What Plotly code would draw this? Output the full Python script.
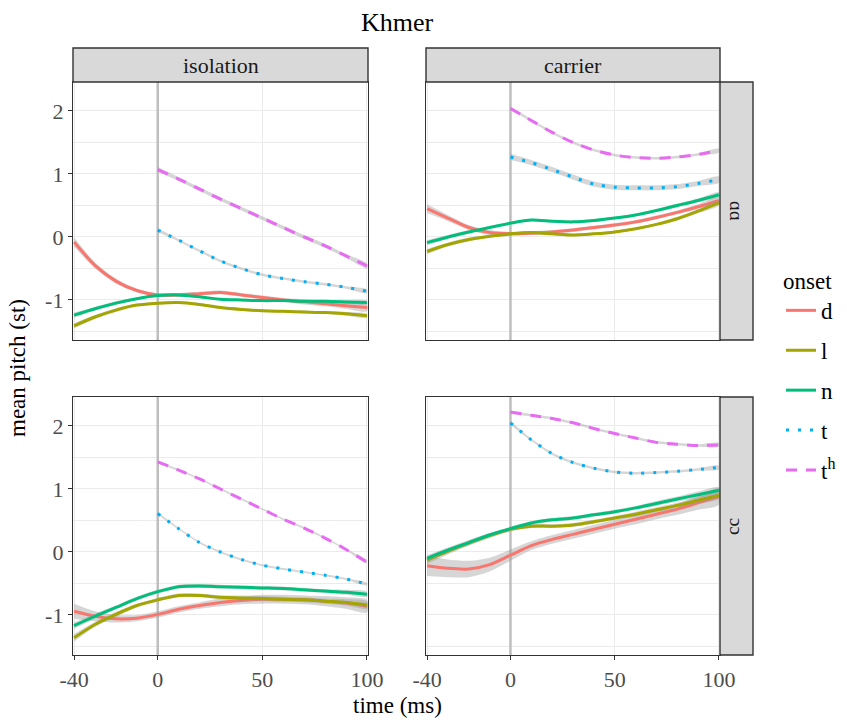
import plotly.graph_objects as go

W, H = 847, 722

# ---------------- data ----------------
time_son = [-40, -30, -20, -10, 0, 10, 20, 30, 40, 50, 60, 70, 80, 90, 100]
time_stop = [0, 10, 20, 30, 40, 50, 60, 70, 80, 90, 100]
onsets = ["d", "l", "n", "t", "tʰ"]
onset_labels = ["d", "l", "n", "t", "t<sup>h</sup>"]
contexts = ["isolation", "carrier"]
vowels = ["ɑɑ", "ɔɔ"]
x_ticks = [-40, 0, 50, 100]
y_ticks = [-1, 0, 1, 2]
onset_time = 0

# isolation / ɑɑ  (mean pitch, st)
iso_a_d = [-0.08, -0.45, -0.70, -0.85, -0.92, -0.92, -0.90, -0.88, -0.92, -0.96, -1.00, -1.03, -1.06, -1.09, -1.12]
iso_a_l = [-1.41, -1.27, -1.16, -1.08, -1.05, -1.04, -1.07, -1.12, -1.15, -1.17, -1.18, -1.19, -1.20, -1.22, -1.25]
iso_a_n = [-1.24, -1.14, -1.05, -0.98, -0.93, -0.92, -0.95, -0.99, -1.00, -1.01, -1.01, -1.02, -1.02, -1.03, -1.04]
iso_a_t = [0.11, -0.05, -0.22, -0.38, -0.50, -0.60, -0.66, -0.71, -0.75, -0.80, -0.86]
iso_a_th = [1.07, 0.92, 0.76, 0.60, 0.45, 0.30, 0.15, 0.00, -0.14, -0.30, -0.46]

# carrier / ɑɑ
car_a_d = [0.45, 0.30, 0.15, 0.07, 0.05, 0.06, 0.08, 0.11, 0.15, 0.19, 0.24, 0.31, 0.39, 0.48, 0.58]
car_a_l = [-0.23, -0.12, -0.04, 0.01, 0.05, 0.07, 0.05, 0.03, 0.05, 0.08, 0.13, 0.20, 0.29, 0.41, 0.54]
car_a_n = [-0.09, 0.00, 0.08, 0.15, 0.22, 0.27, 0.25, 0.24, 0.26, 0.30, 0.35, 0.42, 0.50, 0.58, 0.67]
car_a_t = [1.27, 1.18, 1.07, 0.95, 0.84, 0.79, 0.78, 0.78, 0.80, 0.85, 0.91]
car_a_th = [2.04, 1.85, 1.66, 1.50, 1.38, 1.30, 1.26, 1.25, 1.27, 1.31, 1.37]

# isolation / ɔɔ
iso_o_d = [-0.94, -1.02, -1.06, -1.05, -0.99, -0.91, -0.85, -0.80, -0.77, -0.75, -0.75, -0.76, -0.78, -0.81, -0.86]
iso_o_l = [-1.36, -1.15, -0.99, -0.85, -0.76, -0.69, -0.69, -0.72, -0.73, -0.74, -0.75, -0.76, -0.78, -0.80, -0.84]
iso_o_n = [-1.17, -1.02, -0.88, -0.74, -0.63, -0.55, -0.54, -0.55, -0.56, -0.57, -0.58, -0.60, -0.62, -0.64, -0.67]
iso_o_t = [0.61, 0.37, 0.15, 0.00, -0.12, -0.21, -0.27, -0.32, -0.37, -0.43, -0.51]
iso_o_th = [1.43, 1.30, 1.16, 1.00, 0.84, 0.68, 0.52, 0.38, 0.22, 0.04, -0.16]

# carrier / ɔɔ
car_o_d = [-0.22, -0.26, -0.27, -0.20, -0.05, 0.10, 0.20, 0.28, 0.36, 0.44, 0.52, 0.60, 0.68, 0.78, 0.88]
car_o_l = [-0.13, 0.01, 0.14, 0.26, 0.36, 0.41, 0.41, 0.43, 0.48, 0.54, 0.60, 0.67, 0.74, 0.82, 0.90]
car_o_n = [-0.10, 0.03, 0.15, 0.27, 0.37, 0.46, 0.51, 0.54, 0.59, 0.64, 0.70, 0.77, 0.84, 0.91, 0.98]
car_o_t = [2.05, 1.78, 1.56, 1.42, 1.33, 1.27, 1.25, 1.26, 1.28, 1.31, 1.34]
car_o_th = [2.22, 2.17, 2.12, 2.05, 1.96, 1.88, 1.81, 1.74, 1.71, 1.69, 1.70]

# confidence band half-widths (st)
se_iso_a_d = [0.07, 0.05, 0.04, 0.03, 0.03, 0.03, 0.03, 0.03, 0.03, 0.03, 0.03, 0.04, 0.04, 0.05, 0.06]
se_iso_a_l = [0.04, 0.03, 0.03, 0.02, 0.02, 0.02, 0.02, 0.02, 0.02, 0.02, 0.02, 0.02, 0.02, 0.03, 0.03]
se_iso_a_n = [0.04, 0.03, 0.03, 0.02, 0.02, 0.02, 0.02, 0.02, 0.02, 0.02, 0.02, 0.02, 0.02, 0.03, 0.03]
se_iso_a_t = [0.03, 0.02, 0.02, 0.02, 0.02, 0.02, 0.02, 0.02, 0.02, 0.02, 0.03]
se_iso_a_th = [0.04, 0.03, 0.03, 0.03, 0.03, 0.03, 0.03, 0.03, 0.03, 0.03, 0.04]

se_car_a_d = [0.07, 0.05, 0.04, 0.04, 0.03, 0.03, 0.03, 0.03, 0.03, 0.03, 0.03, 0.03, 0.03, 0.04, 0.05]
se_car_a_l = [0.04, 0.03, 0.03, 0.02, 0.02, 0.02, 0.02, 0.02, 0.02, 0.02, 0.02, 0.02, 0.03, 0.03, 0.04]
se_car_a_n = [0.04, 0.03, 0.03, 0.02, 0.02, 0.02, 0.02, 0.02, 0.02, 0.02, 0.02, 0.02, 0.03, 0.03, 0.04]
se_car_a_t = [0.05, 0.04, 0.04, 0.04, 0.04, 0.04, 0.04, 0.04, 0.04, 0.04, 0.05]
se_car_a_th = [0.03, 0.02, 0.02, 0.02, 0.02, 0.02, 0.02, 0.02, 0.02, 0.02, 0.03]

se_iso_o_d = [0.12, 0.08, 0.06, 0.05, 0.05, 0.05, 0.05, 0.06, 0.06, 0.07, 0.07, 0.07, 0.08, 0.09, 0.10]
se_iso_o_l = [0.06, 0.04, 0.04, 0.03, 0.03, 0.03, 0.03, 0.03, 0.04, 0.04, 0.04, 0.04, 0.04, 0.05, 0.06]
se_iso_o_n = [0.05, 0.04, 0.03, 0.03, 0.03, 0.03, 0.03, 0.03, 0.03, 0.03, 0.03, 0.03, 0.03, 0.04, 0.04]
se_iso_o_t = [0.02, 0.015, 0.015, 0.015, 0.015, 0.015, 0.015, 0.015, 0.015, 0.015, 0.02]
se_iso_o_th = [0.02, 0.015, 0.015, 0.015, 0.015, 0.015, 0.015, 0.015, 0.015, 0.015, 0.02]

se_car_o_d = [0.16, 0.14, 0.13, 0.11, 0.09, 0.07, 0.07, 0.07, 0.07, 0.07, 0.08, 0.08, 0.09, 0.11, 0.13]
se_car_o_l = [0.06, 0.05, 0.04, 0.04, 0.03, 0.03, 0.03, 0.03, 0.03, 0.03, 0.04, 0.04, 0.04, 0.05, 0.06]
se_car_o_n = [0.05, 0.04, 0.04, 0.03, 0.03, 0.03, 0.03, 0.03, 0.03, 0.03, 0.03, 0.04, 0.04, 0.05, 0.05]
se_car_o_t = [0.03, 0.02, 0.02, 0.02, 0.02, 0.02, 0.02, 0.02, 0.02, 0.02, 0.03]
se_car_o_th = [0.03, 0.02, 0.02, 0.02, 0.02, 0.02, 0.02, 0.02, 0.02, 0.02, 0.03]

# ---------------- styling ----------------
colors = {"d": "#F8766D", "l": "#A3A500", "n": "#00BF7D", "t": "#00B0F6", "tʰ": "#E76BF3"}
dashes = {"d": "solid", "l": "solid", "n": "solid", "t": "3px,9px", "tʰ": "11px,9px"}
FONT = "Liberation Serif, Times New Roman, serif"
DARK = "#333333"
GRID = "#ebebeb"
TICK_SIZE = 22
TITLE_SIZE = 23

# panel geometry in pixels
col_px = [(73, 368), (426, 720)]
row_px = [(82, 340), (397, 655)]
x_range = [-40.5, 100.5]
y_range = [-1.635, 2.46]

panels = [
    (0, 0, {"d": (iso_a_d, se_iso_a_d), "l": (iso_a_l, se_iso_a_l), "n": (iso_a_n, se_iso_a_n),
            "t": (iso_a_t, se_iso_a_t), "tʰ": (iso_a_th, se_iso_a_th)}),
    (0, 1, {"d": (car_a_d, se_car_a_d), "l": (car_a_l, se_car_a_l), "n": (car_a_n, se_car_a_n),
            "t": (car_a_t, se_car_a_t), "tʰ": (car_a_th, se_car_a_th)}),
    (1, 0, {"d": (iso_o_d, se_iso_o_d), "l": (iso_o_l, se_iso_o_l), "n": (iso_o_n, se_iso_o_n),
            "t": (iso_o_t, se_iso_o_t), "tʰ": (iso_o_th, se_iso_o_th)}),
    (1, 1, {"d": (car_o_d, se_car_o_d), "l": (car_o_l, se_car_o_l), "n": (car_o_n, se_car_o_n),
            "t": (car_o_t, se_car_o_t), "tʰ": (car_o_th, se_car_o_th)}),
]

fig = go.Figure()
layout = {}
shapes = []

for r, c, series in panels:
    i = r * 2 + c + 1
    xa = "x" if i == 1 else f"x{i}"
    ya = "y" if i == 1 else f"y{i}"
    x0, x1 = col_px[c]
    y0, y1 = row_px[r]
    layout[f"xaxis{'' if i == 1 else i}"] = dict(
        domain=[x0 / W, x1 / W], range=x_range, anchor=ya,
        tickvals=x_ticks, ticktext=[str(v) for v in x_ticks],
        showticklabels=(r == 1), ticks="outside" if r == 1 else "",
        ticklen=4, tickwidth=1.2, tickcolor=DARK,
        tickfont=dict(family=FONT, size=TICK_SIZE, color="#4d4d4d"),
        showgrid=True, gridcolor=GRID, gridwidth=1.1,
        showline=True, mirror=True, linecolor=DARK, linewidth=1.4,
        zeroline=False, fixedrange=True, automargin=False,
    )
    layout[f"yaxis{'' if i == 1 else i}"] = dict(
        domain=[1 - y1 / H, 1 - y0 / H], range=y_range, anchor=xa,
        tickvals=y_ticks, ticktext=[str(v) for v in y_ticks],
        showticklabels=(c == 0), ticks="outside" if c == 0 else "",
        ticklen=4, tickwidth=1.2, tickcolor=DARK,
        tickfont=dict(family=FONT, size=TICK_SIZE, color="#4d4d4d"),
        showgrid=True, gridcolor=GRID, gridwidth=1.1,
        minor=dict(tickvals=[-1.5, -0.5, 0.5, 1.5], showgrid=True, gridcolor=GRID, gridwidth=0.8, ticks=""),
        showline=True, mirror=True, linecolor=DARK, linewidth=1.4,
        zeroline=False, fixedrange=True, automargin=False,
    )
    # vertical reference line at onset (t = 0)
    fig.add_trace(go.Scatter(
        x=[onset_time, onset_time], y=y_range, xaxis=xa, yaxis=ya, mode="lines",
        line=dict(color="#bebebe", width=2.5), hoverinfo="skip", showlegend=False,
    ))

    for k, name in enumerate(onsets):
        yv, se = series[name]
        tx = time_stop if name in ("t", "tʰ") else time_son
        upper = [a + b for a, b in zip(yv, se)]
        lower = [a - b for a, b in zip(yv, se)]
        fig.add_trace(go.Scatter(
            x=tx + tx[::-1], y=upper + lower[::-1], xaxis=xa, yaxis=ya,
            fill="toself", fillcolor="rgba(153,153,153,0.4)",
            line=dict(width=0, shape="spline", smoothing=0.8),
            mode="lines", hoverinfo="skip", showlegend=False, legendgroup=name,
        ))
        fig.add_trace(go.Scatter(
            x=tx, y=yv, xaxis=xa, yaxis=ya, mode="lines",
            line=dict(color=colors[name], width=3, dash=dashes[name], shape="spline", smoothing=0.8),
            name=onset_labels[k], legendgroup=name, showlegend=(i == 1),
        ))

annotations = []
# top strips
for c, label in enumerate(contexts):
    x0, x1 = col_px[c]
    shapes.append(dict(type="rect", xref="paper", yref="paper", x0=x0 / W, x1=x1 / W,
                       y0=1 - 82 / H, y1=1 - 48 / H, fillcolor="#d9d9d9",
                       line=dict(color=DARK, width=1.4), layer="above"))
    annotations.append(dict(text=label, xref="paper", yref="paper", x=(x0 + x1) / 2 / W,
                            y=1 - 65 / H, showarrow=False, xanchor="center", yanchor="middle",
                            font=dict(family=FONT, size=22, color="#1a1a1a")))
# right strips
for r, label in enumerate(vowels):
    y0, y1 = row_px[r]
    shapes.append(dict(type="rect", xref="paper", yref="paper", x0=720 / W, x1=753 / W,
                       y0=1 - y1 / H, y1=1 - y0 / H, fillcolor="#d9d9d9",
                       line=dict(color=DARK, width=1.4), layer="above"))
    annotations.append(dict(text=label, xref="paper", yref="paper", x=737 / W,
                            y=1 - (y0 + y1) / 2 / H, showarrow=False, textangle=90,
                            xanchor="center", yanchor="middle",
                            font=dict(family=FONT, size=19, color="#1a1a1a")))

annotations += [
    dict(text="Khmer", xref="paper", yref="paper", x=397 / W, y=1 - 22 / H, showarrow=False,
         xanchor="center", yanchor="middle", font=dict(family=FONT, size=26, color="black")),
    dict(text="time (ms)", xref="paper", yref="paper", x=397 / W, y=1 - 705 / H, showarrow=False,
         xanchor="center", yanchor="middle", font=dict(family=FONT, size=TITLE_SIZE, color="black")),
    dict(text="mean pitch (st)", xref="paper", yref="paper", x=17 / W, y=1 - 368 / H, showarrow=False,
         textangle=-90, xanchor="center", yanchor="middle", font=dict(family=FONT, size=TITLE_SIZE, color="black")),
]

fig.update_layout(
    width=W, height=H, margin=dict(l=0, r=0, t=0, b=0, autoexpand=False),
    paper_bgcolor="white", plot_bgcolor="white",
    shapes=shapes, annotations=annotations,
    legend=dict(x=781 / W, y=1 - 259 / H, xanchor="left", yanchor="top",
                title=dict(text="onset", font=dict(family=FONT, size=23, color="black")),
                font=dict(family=FONT, size=23, color="black"),
                tracegroupgap=7, itemwidth=30, bgcolor="rgba(0,0,0,0)"),
    **layout,
)

fig.write_html("out.html")
